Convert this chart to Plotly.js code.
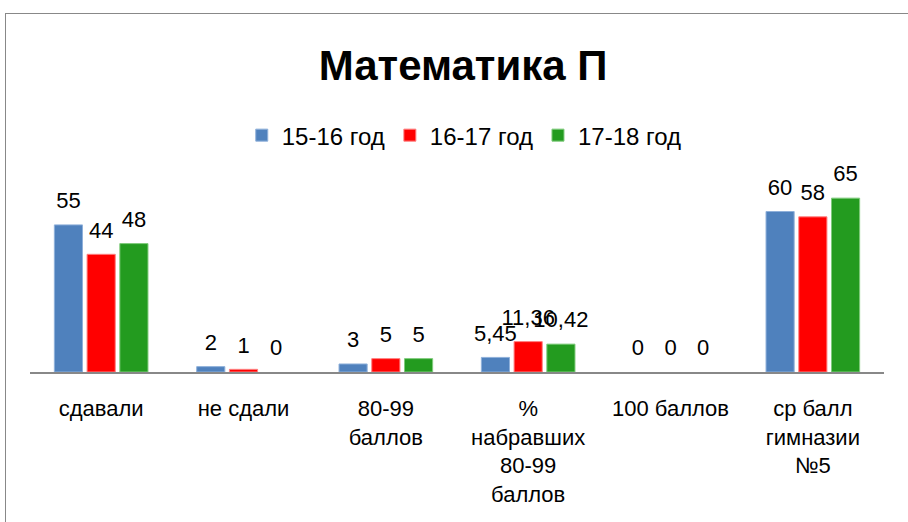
<!DOCTYPE html>
<html><head><meta charset="utf-8">
<script src="https://cdn.plot.ly/plotly-3.0.1.min.js"></script>
<style>
body{margin:0;padding:0;background:#fff;}
#wrap{position:relative;width:908px;height:522px;overflow:hidden;}
#chart{position:absolute;left:0;top:0;width:908px;height:522px;}
#frame{position:absolute;left:5px;top:13px;width:1000px;height:600px;border:1px solid #888;pointer-events:none;}
</style></head>
<body>
<div id="wrap"><div id="chart"></div><div id="frame"></div></div>
<script>
var categories = ["сдавали", "не сдали", "80-99<br>баллов", "%<br>набравших<br>80-99<br>баллов", "100 баллов", "ср балл<br>гимназии<br>№5"];
var seriesNames = ["15-16 год", "16-17 год", "17-18 год"];
var s1 = [55, 2, 3, 5.45, 0, 60];
var s2 = [44, 1, 5, 11.36, 0, 58];
var s3 = [48, 0, 5, 10.42, 0, 65];
var colors = ["#4F81BD", "#FF0000", "#239B1F"];
var lineColors = ["#8FB0DA", "#FF8080", "#7FCB7C"];
var allSeries = [s1, s2, s3];
var font = "Liberation Sans, Arial, sans-serif";
function fmt(v){ return String(v).replace('.', ','); }
var traces = allSeries.map(function(s, i){
  return {
    type: 'bar', x: categories, y: s, name: seriesNames[i],
    marker: {color: colors[i], line: {color: lineColors[i], width: s.map(function(v){return v === 0 ? 0 : 1;})}},
    text: s.map(function(v){ return "<span style='font-size:22px'>" + fmt(v) + "</span><br> "; }),
    textposition: 'outside', cliponaxis: false, constraintext: 'none',
    textfont: {family: font, size: 9, color: '#000'},
    hoverinfo: 'none'
  };
});
var layout = {
  width: 908, height: 522,
  margin: {l: 30, r: 24, t: 158, b: 150},
  paper_bgcolor: '#fff', plot_bgcolor: '#fff',
  title: {text: '<b>Математика П</b>', font: {family: font, size: 42, color: '#000'}, x: 0.51, xanchor: 'center', y: 0.875, yanchor: 'middle'},
  barmode: 'group', bargap: 0.31, bargroupgap: 0.14,
  showlegend: true,
  legend: {orientation: 'h', x: 0.5085, xanchor: 'center', y: 1.105, yanchor: 'middle', font: {family: font, size: 24, color: '#000'}, itemwidth: 30, traceorder: 'normal'},
  xaxis: {showline: true, linecolor: '#888', linewidth: 1.5, ticks: '', ticklabelstandoff: 16, tickfont: {family: font, size: 22, color: '#000'}, tickangle: 0, showgrid: false, zeroline: false, fixedrange: true, automargin: false},
  yaxis: {range: [0, 80], visible: false, showgrid: false, zeroline: false, fixedrange: true},
  font: {family: font}
};
Plotly.newPlot('chart', traces, layout, {displayModeBar: false, staticPlot: true});
</script>
</body></html>
